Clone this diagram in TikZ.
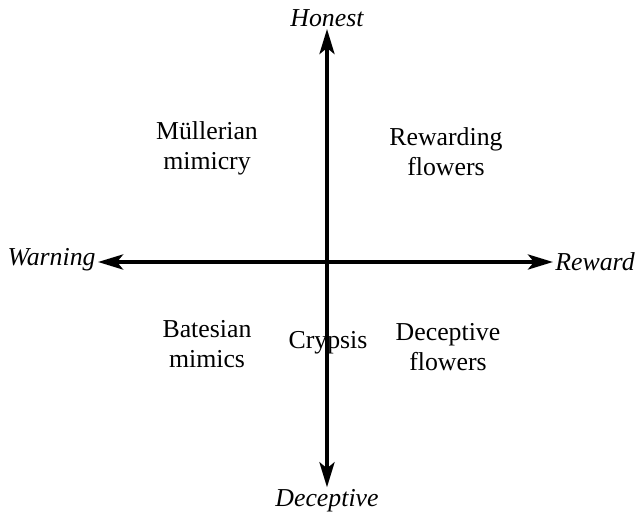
\documentclass[tikz,border=0pt]{standalone}
\usepackage{fontspec}
\setmainfont{Liberation Serif}
\usepackage{tikz}
\usetikzlibrary{arrows.meta,positioning}

\begin{document}
\begin{tikzpicture}[x=0.5pt, y=-0.5pt, font=\fontsize{12.9}{15}\selectfont]
    \useasboundingbox (0,0) rectangle (637,514);
    \tikzset{
        axislabel/.style={font=\fontsize{12.9}{15}\selectfont\itshape, inner sep=1pt},
        quadrant/.style={align=center, inner sep=0pt},
        axis/.style={line width=2pt, {Stealth[length=12.5pt, width=7.5pt, inset=3pt]}-{Stealth[length=12.5pt, width=7.5pt, inset=3pt]}}
    }

    \node (honest) [axislabel] at (327,18) {Honest};
    \node (deceptive) [axislabel] at (327,501) {Deceptive};
    \node (warning) [axislabel, anchor=east] at (98,260) {Warning};
    \node (reward) [axislabel, anchor=west] at (553,262) {Reward};

    \node (mullerian) [quadrant] at (207,148) {Müllerian\\mimicry};
    \node (rewarding) [quadrant] at (446,152) {Rewarding\\flowers};
    \node (batesian) [quadrant] at (207,344) {Batesian\\mimics};
    \node (crypsis) [quadrant] at (328,343) {Crypsis};
    \node (decflowers) [quadrant] at (448,347) {Deceptive\\flowers};

    \draw [axis] (warning.east |- reward) -- (reward);
    \draw [axis] (honest) -- (deceptive);
\end{tikzpicture}
\end{document}
